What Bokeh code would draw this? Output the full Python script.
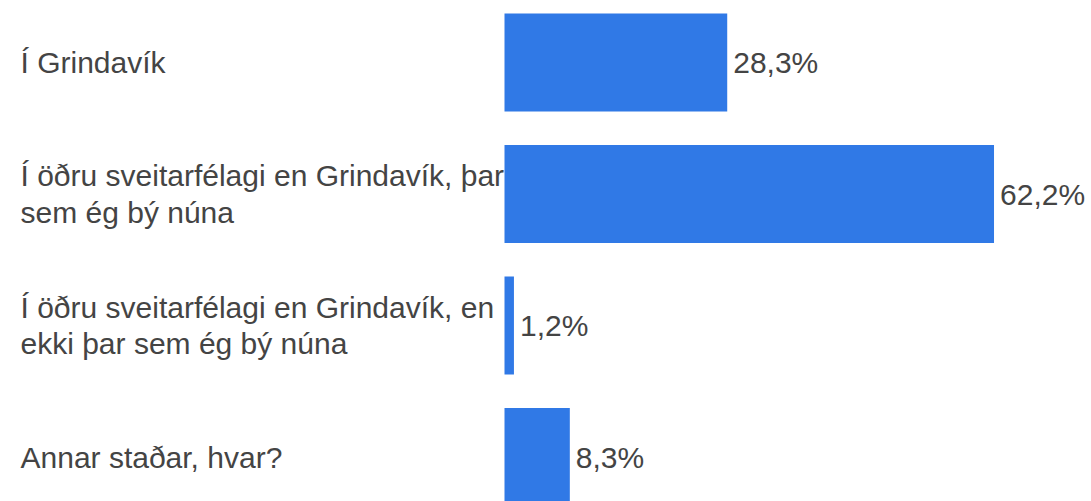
from bokeh.plotting import figure
from bokeh.models import ColumnDataSource, Range1d
from bokeh.core.properties import value
from bokeh.embed import file_html
from bokeh.resources import INLINE

categories = [
    "Í Grindavík",
    "Í öðru sveitarfélagi en Grindavík, þar\nsem ég bý núna",
    "Í öðru sveitarfélagi en Grindavík, en\nekki þar sem ég bý núna",
    "Annar staðar, hvar?",
]
values = [28.3, 62.2, 1.2, 8.3]
value_labels = ["28,3%", "62,2%", "1,2%", "8,3%"]

W, H = 1091, 501
x0_px = 504.0
px_per_unit = 7.87
row_px = 131.5
first_center_px = 62.0

src = ColumnDataSource(dict(
    y=list(range(len(categories))),
    v=values,
    zero=[0] * len(values),
    cat=categories,
    lab=value_labels,
))

p = figure(width=W, height=H, output_backend="svg", toolbar_location=None,
           x_range=Range1d(-x0_px / px_per_unit, (W - x0_px) / px_per_unit),
           y_range=Range1d((H - first_center_px) / row_px, -first_center_px / row_px),
           min_border=0)
p.axis.visible = False
p.grid.visible = False
p.outline_line_color = None
p.background_fill_color = "white"
p.border_fill_color = "white"

p.hbar(y="y", left="zero", right="v", height=98 / row_px, source=src,
       fill_color="#3079E6", line_color=None)

p.text(x="v", y="y", text="lab", source=src, x_offset=6,
       text_align="left", text_baseline="middle",
       text_font=value("Liberation Sans"), text_font_size="30px",
       text_color="#444444")

p.text(x="zero", y="y", text="cat", source=src, x_offset=-(x0_px - 20),
       text_align="left", text_baseline="middle",
       text_font=value("Liberation Sans"), text_font_size="30px",
       text_line_height=1.1, text_color="#444444")

open("out.html", "w").write(file_html(p, INLINE))
